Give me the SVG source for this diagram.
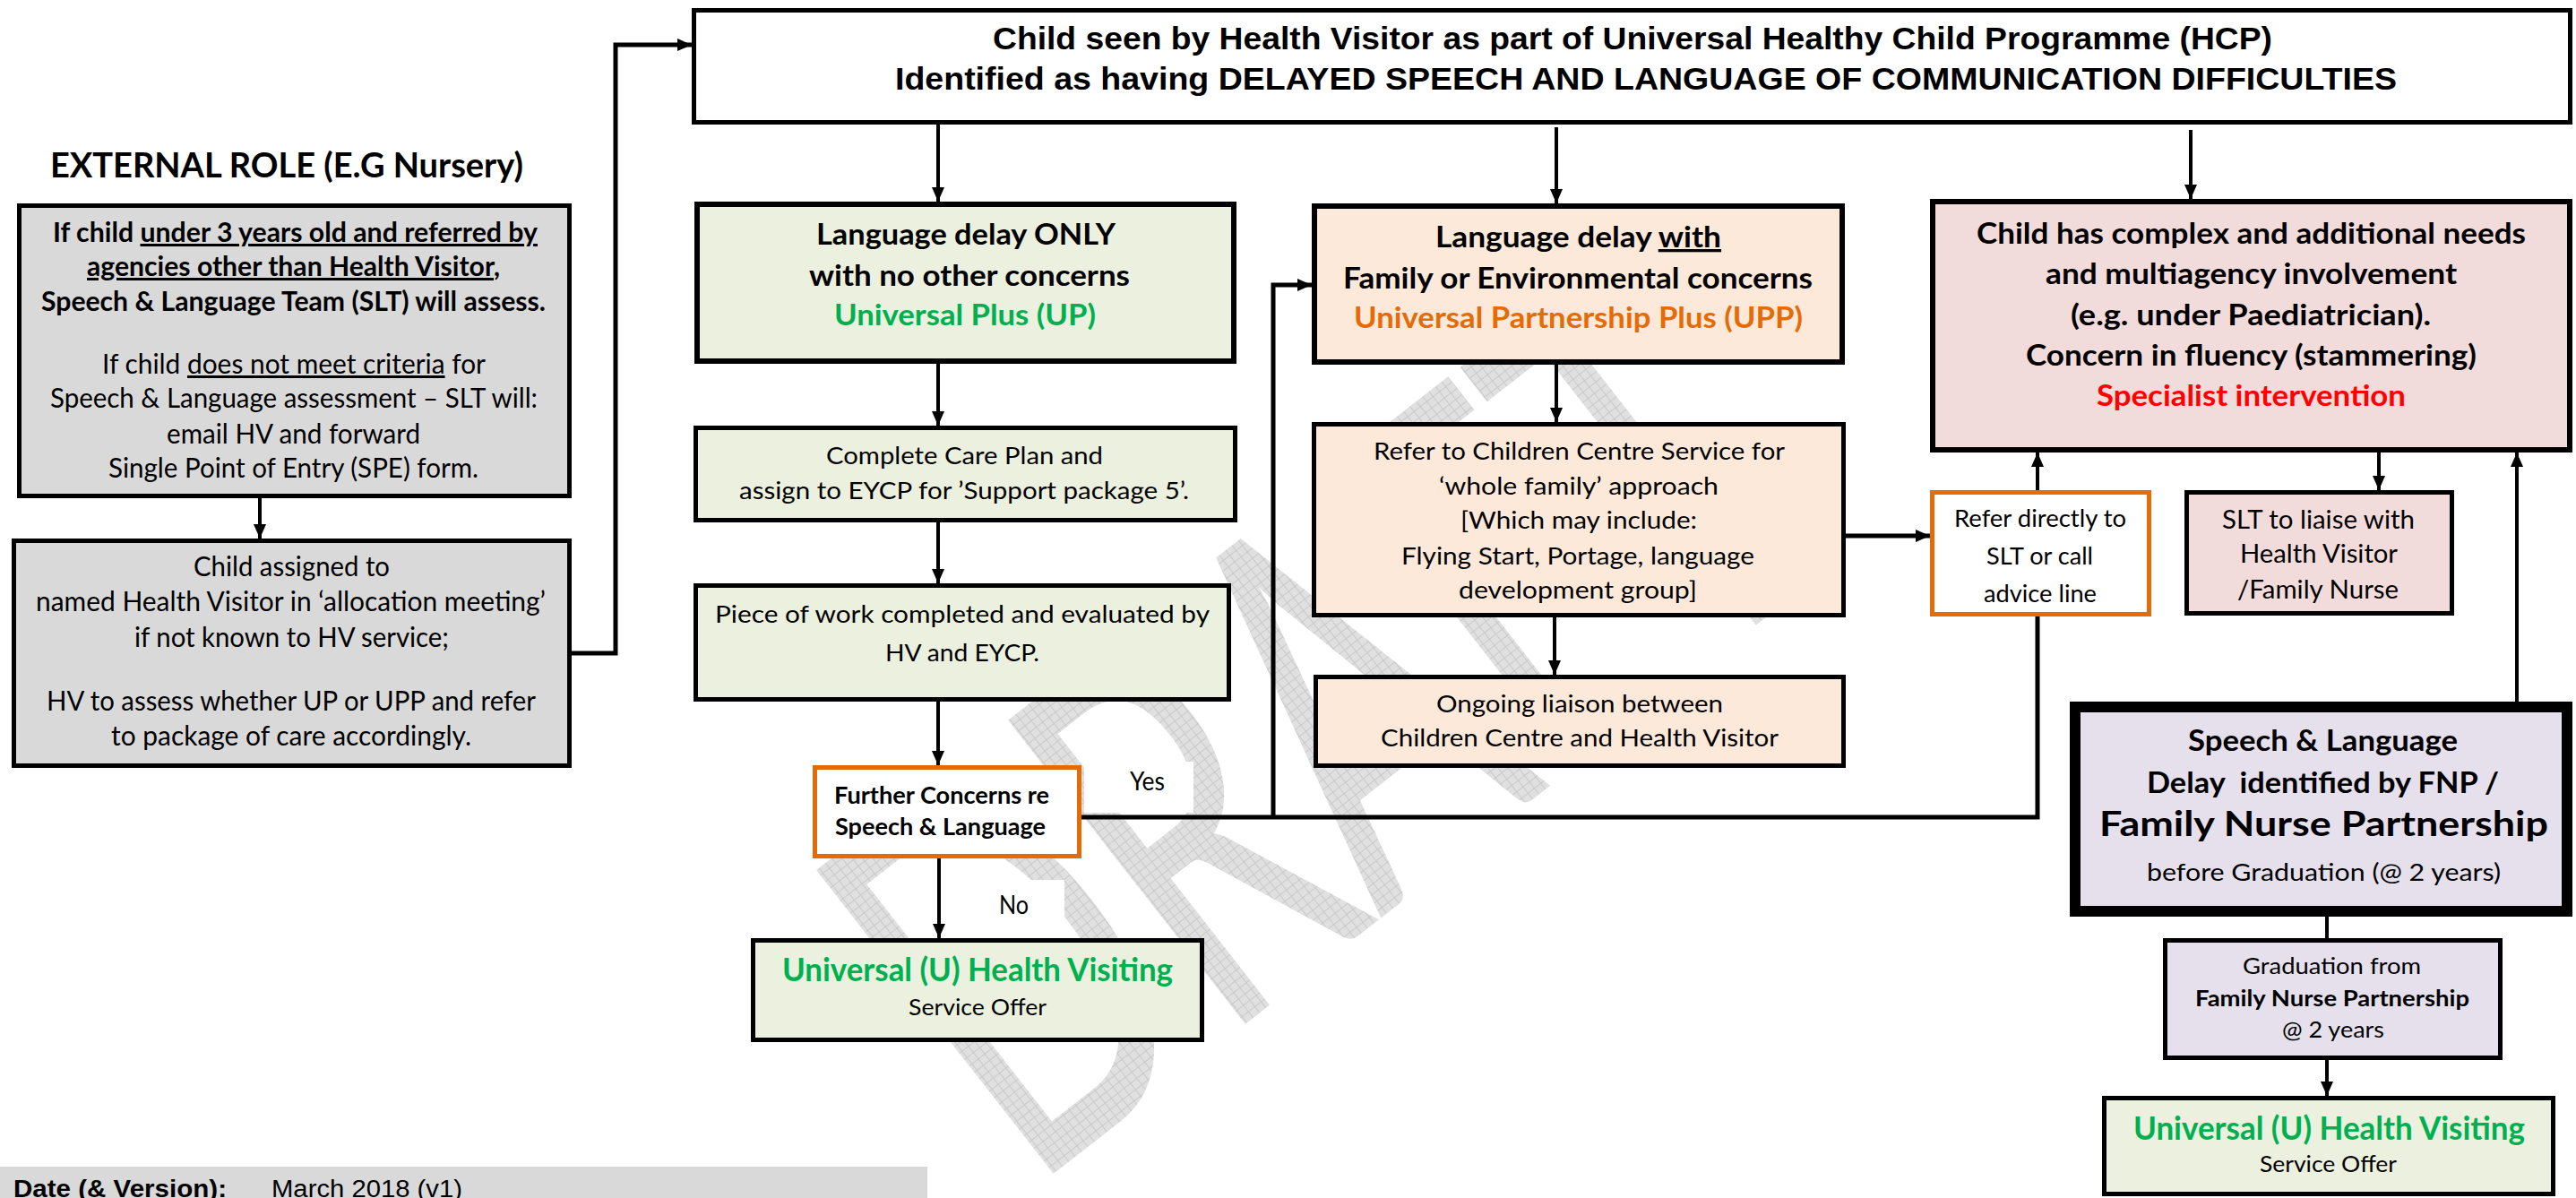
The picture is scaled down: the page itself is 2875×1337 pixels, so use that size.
<svg xmlns="http://www.w3.org/2000/svg" width="2875" height="1337" viewBox="0 0 2875 1337">
<style>
text{font-family:Lato,"Open Sans","Liberation Sans",sans-serif;text-anchor:middle;fill:#000}
.ar{font-family:"Liberation Sans",Arial,sans-serif}
.b{font-weight:bold}
.s22{font-size:24.5px}.s23{font-size:25px}.s25{font-size:27.5px}.s26{font-size:28px}.s28{font-size:30px}.s30{font-size:33px}.s33{font-size:36px}.s35{font-size:38px}
.tt{font-size:35px}
.green{fill:#00b050}.orange{fill:#e36c09}.red{fill:#ff0000}
.u{text-decoration:underline}
.bx{stroke:#000;stroke-width:5}
.thick{stroke-width:6}
.ob{stroke:#e36c09;stroke-width:5;fill:#fff}
.gr{fill:#d9d9d9}.gn{fill:#ebf1de}.pe{fill:#fde9d9}.pk{fill:#f2dcdb}.lv{fill:#e5e0ec}
.ln{fill:none;stroke:#000;stroke-width:4}
.la{marker-end:url(#ah)}
</style>
<defs>
<marker id="ah" markerUnits="userSpaceOnUse" markerWidth="16" markerHeight="14" refX="16" refY="7" orient="auto">
<path d="M0,0 L16,7 L0,14 z" fill="#000"/>
</marker>
<pattern id="wm" width="9" height="9" patternUnits="userSpaceOnUse">
<rect width="9" height="9" fill="#e0e0e0"/>
<path d="M0 0.5H9M0.5 0V9" stroke="#c9c9c9" stroke-width="1"/>
</pattern>
</defs>
<rect width="2875" height="1337" fill="#fff"/>

<g id="watermark">
<text x="0" y="0" transform="translate(1150,1330) rotate(-38)" style="text-anchor:start;font-size:600px;fill:url(#wm)" textLength="1150" lengthAdjust="spacingAndGlyphs">DRAFT</text>
</g>

<g id="labels">
<rect x="1210" y="850" width="122" height="57" fill="#fff"/>
<text class="s26" x="1280.5" y="882" textLength="39" lengthAdjust="spacingAndGlyphs">Yes</text>
<rect x="1092" y="982" width="96" height="65" fill="#fff"/>
<text class="s26" x="1131.5" y="1020" textLength="33" lengthAdjust="spacingAndGlyphs">No</text>
</g>

<g id="connectors">
<path class="ln la" d="M290 556V601"/>
<path class="ln la" style="stroke-width:5" d="M638 729H687V50H772"/>
<path class="ln la" d="M1047 139V225"/>
<path class="ln la" d="M1737 142V227"/>
<path class="ln la" d="M2445 145V222"/>
<path class="ln la" d="M1047 406V475"/>
<path class="ln la" d="M1047 583V651"/>
<path class="ln la" d="M1047 783V854"/>
<path class="ln la" d="M1048 958V1047"/>
<path class="ln" style="stroke-width:5" d="M1207 912H2274V688"/>
<path class="ln la" style="stroke-width:5" d="M1421 912V318H1464"/>
<path class="ln la" d="M1737 407V471"/>
<path class="ln la" d="M1735 689V753"/>
<path class="ln la" style="stroke-width:5" d="M2060 598H2154"/>
<path class="ln la" d="M2274 547V505"/>
<path class="ln la" d="M2655 505V547"/>
<path class="ln la" d="M2809 783V505"/>
<path class="ln" d="M2597 1023V1047"/>
<path class="ln la" d="M2597 1183V1223"/>
</g>

<g id="heading">
<text class="b s35" x="320" y="198" textLength="528" lengthAdjust="spacingAndGlyphs">EXTERNAL ROLE (E.G Nursery)</text>
</g>

<g id="title">
<rect class="bx" x="774.5" y="11.5" width="2094" height="125" fill="#fff"/>
<text class="ar b tt" x="1822" y="55" textLength="1428" lengthAdjust="spacingAndGlyphs">Child seen by Health Visitor as part of Universal Healthy Child Programme (HCP)</text>
<text class="ar b tt" x="1837" y="100" textLength="1676" lengthAdjust="spacingAndGlyphs">Identified as having DELAYED SPEECH AND LANGUAGE OF COMMUNICATION DIFFICULTIES</text>
</g>

<g id="external-referral">
<rect class="bx gr" x="21.5" y="229.5" width="614" height="324"/>
<text class="b s28" x="329.5" y="270" textLength="541" lengthAdjust="spacingAndGlyphs">If child <tspan class="u">under 3 years old and referred by</tspan></text>
<text class="b s28" x="327.5" y="308" textLength="461" lengthAdjust="spacingAndGlyphs"><tspan class="u">agencies other than Health Visitor</tspan>,</text>
<text class="b s28" x="327.5" y="347" textLength="563" lengthAdjust="spacingAndGlyphs">Speech &amp; Language Team (SLT) will assess.</text>
<text class="s28" x="328" y="417" textLength="428" lengthAdjust="spacingAndGlyphs">If child <tspan class="u">does not meet criteria</tspan> for</text>
<text class="s28" x="328" y="455" textLength="544" lengthAdjust="spacingAndGlyphs">Speech &amp; Language assessment – SLT will:</text>
<text class="s28" x="327.5" y="495" textLength="283" lengthAdjust="spacingAndGlyphs">email HV and forward</text>
<text class="s28" x="327.5" y="533" textLength="413" lengthAdjust="spacingAndGlyphs">Single Point of Entry (SPE) form.</text>
</g>

<g id="allocation">
<rect class="bx gr" x="15.5" y="603.5" width="620" height="251"/>
<text class="s28" x="325.5" y="643" textLength="219" lengthAdjust="spacingAndGlyphs">Child assigned to</text>
<text class="s28" x="324.5" y="682" textLength="569" lengthAdjust="spacingAndGlyphs">named Health Visitor in ‘allocation meeting’</text>
<text class="s28" x="325.5" y="722" textLength="351" lengthAdjust="spacingAndGlyphs">if not known to HV service;</text>
<text class="s28" x="325" y="793" textLength="546" lengthAdjust="spacingAndGlyphs">HV to assess whether UP or UPP and refer</text>
<text class="s28" x="325" y="832" textLength="402" lengthAdjust="spacingAndGlyphs">to package of care accordingly.</text>
</g>

<g id="universal-plus">
<rect class="bx thick gn" x="778" y="228" width="599" height="175"/>
<text class="b s30" x="1078" y="273" textLength="334" lengthAdjust="spacingAndGlyphs">Language delay ONLY</text>
<text class="b s30" x="1082" y="319" textLength="358" lengthAdjust="spacingAndGlyphs">with no other concerns</text>
<text class="b s30 green" x="1077" y="363" textLength="292" lengthAdjust="spacingAndGlyphs">Universal Plus (UP)</text>
</g>

<g id="universal-partnership-plus">
<rect class="bx thick pe" x="1467" y="230" width="589" height="174"/>
<text class="b s30" x="1761.5" y="276" textLength="319" lengthAdjust="spacingAndGlyphs">Language delay <tspan class="u">with</tspan></text>
<text class="b s30" x="1761" y="322" textLength="524" lengthAdjust="spacingAndGlyphs">Family or Environmental concerns</text>
<text class="b s30 orange" x="1761.5" y="366" textLength="501" lengthAdjust="spacingAndGlyphs">Universal Partnership Plus (UPP)</text>
</g>

<g id="specialist">
<rect class="bx thick pk" x="2157" y="225" width="711" height="277"/>
<text class="b s30" x="2512.5" y="272" textLength="613" lengthAdjust="spacingAndGlyphs">Child has complex and additional needs</text>
<text class="b s30" x="2512.5" y="317" textLength="459" lengthAdjust="spacingAndGlyphs">and multiagency involvement</text>
<text class="b s30" x="2512" y="363" textLength="402" lengthAdjust="spacingAndGlyphs">(e.g. under Paediatrician).</text>
<text class="b s30" x="2512.5" y="408" textLength="503" lengthAdjust="spacingAndGlyphs">Concern in fluency (stammering)</text>
<text class="b s30 red" x="2512.5" y="453" textLength="345" lengthAdjust="spacingAndGlyphs">Specialist intervention</text>
</g>

<g id="care-plan">
<rect class="bx gn" x="776.5" y="477.5" width="602" height="103"/>
<text class="s25" x="1076.5" y="518" textLength="309" lengthAdjust="spacingAndGlyphs">Complete Care Plan and</text>
<text class="s25" x="1076" y="557" textLength="502" lengthAdjust="spacingAndGlyphs">assign to EYCP for ’Support package 5’.</text>
</g>

<g id="piece-of-work">
<rect class="bx gn" x="776.5" y="653.5" width="595" height="127"/>
<text class="s25" x="1074" y="695" textLength="552" lengthAdjust="spacingAndGlyphs">Piece of work completed and evaluated by</text>
<text class="s25" x="1074" y="738" textLength="172" lengthAdjust="spacingAndGlyphs">HV and EYCP.</text>
</g>

<g id="further-concerns">
<rect class="ob" x="909.5" y="856.5" width="295" height="99"/>
<text class="b s25" x="1051" y="897" textLength="240" lengthAdjust="spacingAndGlyphs">Further Concerns re</text>
<text class="b s25" x="1049.5" y="932" textLength="235" lengthAdjust="spacingAndGlyphs">Speech &amp; Language</text>
</g>

<g id="universal-1">
<rect class="bx gn" x="840.5" y="1049.5" width="501" height="111"/>
<text class="b s33 green" x="1091" y="1095" textLength="436" lengthAdjust="spacingAndGlyphs">Universal (U) Health Visiting</text>
<text class="s22" x="1091" y="1133" textLength="154" lengthAdjust="spacingAndGlyphs">Service Offer</text>
</g>

<g id="children-centre">
<rect class="bx pe" x="1466.5" y="473.5" width="591" height="213"/>
<text class="s25" x="1762.5" y="513" textLength="459" lengthAdjust="spacingAndGlyphs">Refer to Children Centre Service for</text>
<text class="s25" x="1762" y="552" textLength="312" lengthAdjust="spacingAndGlyphs">‘whole family’ approach</text>
<text class="s25" x="1762" y="590" textLength="264" lengthAdjust="spacingAndGlyphs">[Which may include:</text>
<text class="s25" x="1761" y="630" textLength="394" lengthAdjust="spacingAndGlyphs">Flying Start, Portage, language</text>
<text class="s25" x="1761" y="668" textLength="266" lengthAdjust="spacingAndGlyphs">development group]</text>
</g>

<g id="ongoing-liaison">
<rect class="bx pe" x="1468.5" y="755.5" width="589" height="99"/>
<text class="s25" x="1763" y="795" textLength="320" lengthAdjust="spacingAndGlyphs">Ongoing liaison between</text>
<text class="s25" x="1763" y="833" textLength="444" lengthAdjust="spacingAndGlyphs">Children Centre and Health Visitor</text>
</g>

<g id="refer-directly">
<rect class="ob" x="2156.5" y="549.5" width="242" height="136"/>
<text class="s25" x="2277" y="588" textLength="192" lengthAdjust="spacingAndGlyphs">Refer directly to</text>
<text class="s25" x="2276.5" y="630" textLength="119" lengthAdjust="spacingAndGlyphs">SLT or call</text>
<text class="s25" x="2277" y="672" textLength="126" lengthAdjust="spacingAndGlyphs">advice line</text>
</g>

<g id="slt-liaise">
<rect class="bx pk" x="2440.5" y="549.5" width="296" height="135"/>
<text class="s26" x="2587.5" y="590" textLength="215" lengthAdjust="spacingAndGlyphs">SLT to liaise with</text>
<text class="s26" x="2588" y="628" textLength="176" lengthAdjust="spacingAndGlyphs">Health Visitor</text>
<text class="s26" x="2587" y="668" textLength="180" lengthAdjust="spacingAndGlyphs">/Family Nurse</text>
</g>

<g id="fnp">
<rect class="lv" x="2316" y="789" width="549" height="228" stroke="#000" stroke-width="12"/>
<text class="b" style="font-size:32px" x="2592.5" y="838" textLength="301" lengthAdjust="spacingAndGlyphs">Speech &amp; Language</text>
<text class="b" style="font-size:32px;white-space:pre" x="2592.5" y="885" textLength="393" lengthAdjust="spacingAndGlyphs">Delay  identified by FNP /</text>
<text class="b" style="font-size:39px" x="2593.5" y="933" textLength="501" lengthAdjust="spacingAndGlyphs">Family Nurse Partnership</text>
<text class="s25" x="2593.5" y="983" textLength="395" lengthAdjust="spacingAndGlyphs">before Graduation (@ 2 years)</text>
</g>

<g id="graduation">
<rect class="bx lv" x="2416.5" y="1049.5" width="374" height="131"/>
<text class="s23" x="2602.5" y="1087" textLength="199" lengthAdjust="spacingAndGlyphs">Graduation from</text>
<text class="b s23" x="2603" y="1123" textLength="306" lengthAdjust="spacingAndGlyphs">Family Nurse Partnership</text>
<text class="s23" x="2604" y="1158" textLength="114" lengthAdjust="spacingAndGlyphs">@ 2 years</text>
</g>

<g id="universal-2">
<rect class="bx gn" x="2348.5" y="1225.5" width="501" height="107"/>
<text class="b s33 green" x="2599.5" y="1272" textLength="437" lengthAdjust="spacingAndGlyphs">Universal (U) Health Visiting</text>
<text class="s22" x="2598.5" y="1308" textLength="153" lengthAdjust="spacingAndGlyphs">Service Offer</text>
</g>

<g id="footer">
<rect x="0" y="1302" width="1035" height="40" fill="#d9d9d9"/>
<text class="ar b" style="font-size:27px;text-anchor:start" x="15" y="1336" textLength="238" lengthAdjust="spacingAndGlyphs">Date (&amp; Version):</text>
<text class="ar" style="font-size:27px;text-anchor:start" x="303" y="1336" textLength="213" lengthAdjust="spacingAndGlyphs">March 2018 (v1)</text>
</g>
</svg>
